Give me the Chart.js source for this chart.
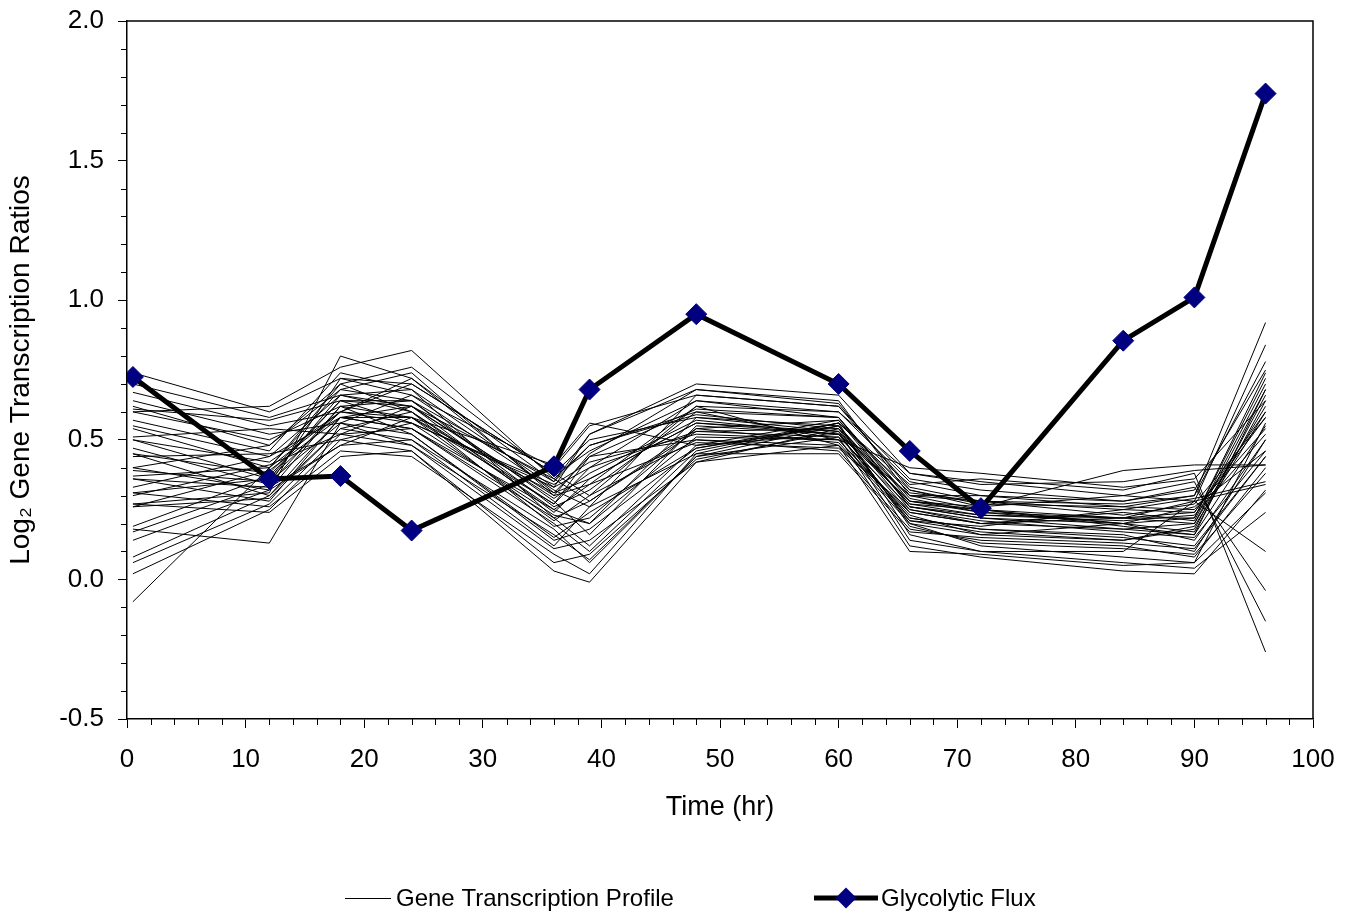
<!DOCTYPE html>
<html>
<head>
<meta charset="utf-8">
<script src="https://cdn.jsdelivr.net/npm/chart.js@4.4.1/dist/chart.umd.min.js"></script>
<style>
html,body{margin:0;padding:0;background:#fff;}
#wrap{width:1352px;height:914px;position:relative;}
</style>
</head>
<body>
<div id="wrap"><canvas id="c" width="1352" height="914"></canvas></div>
<script>
// ---------- data ----------
const timePoints = [0.5, 12, 18, 24, 36, 39, 48, 60, 66, 72, 84, 90, 96];
const glycolyticFlux = [0.725, 0.36, 0.37, 0.175, 0.405, 0.68, 0.95, 0.70, 0.46, 0.255, 0.855, 1.01, 1.74];
// one row per gene, values at each of timePoints
const geneProfiles = [
  [0.74, 0.60, 0.72, 0.70, 0.38, 0.30, 0.62, 0.60, 0.35, 0.30, 0.28, 0.32, 0.75],
  [0.70, 0.58, 0.66, 0.62, 0.30, 0.45, 0.68, 0.64, 0.30, 0.25, 0.22, 0.20, 0.68],
  [0.67, 0.55, 0.60, 0.72, 0.35, 0.52, 0.70, 0.66, 0.38, 0.35, 0.30, 0.28, 0.84],
  [0.64, 0.52, 0.56, 0.66, 0.40, 0.55, 0.66, 0.62, 0.33, 0.28, 0.25, 0.24, 0.60],
  [0.62, 0.48, 0.70, 0.60, 0.25, 0.20, 0.58, 0.55, 0.25, 0.20, 0.18, 0.16, 0.55],
  [0.61, 0.57, 0.64, 0.56, 0.33, 0.40, 0.64, 0.58, 0.28, 0.24, 0.20, 0.22, 0.72],
  [0.60, 0.62, 0.76, 0.82, 0.36, 0.48, 0.60, 0.50, 0.40, 0.38, 0.33, 0.36, 0.64],
  [0.60, 0.50, 0.62, 0.64, 0.28, 0.16, 0.55, 0.52, 0.22, 0.18, 0.16, 0.10, 0.50],
  [0.57, 0.46, 0.74, 0.68, 0.22, 0.28, 0.53, 0.54, 0.30, 0.30, 0.26, 0.30, 0.92],
  [0.55, 0.44, 0.58, 0.58, 0.41, 0.56, 0.48, 0.57, 0.26, 0.22, 0.20, 0.26, 0.46],
  [0.54, 0.40, 0.68, 0.74, 0.30, 0.34, 0.62, 0.48, 0.20, 0.16, 0.14, 0.18, 0.66],
  [0.51, 0.54, 0.52, 0.54, 0.20, 0.10, 0.46, 0.56, 0.32, 0.26, 0.30, 0.35, -0.15],
  [0.50, 0.36, 0.66, 0.60, 0.27, 0.44, 0.50, 0.46, 0.18, 0.14, 0.12, 0.08, 0.40],
  [0.50, 0.42, 0.60, 0.70, 0.38, 0.50, 0.58, 0.53, 0.24, 0.20, 0.24, 0.21, 0.70],
  [0.47, 0.34, 0.72, 0.66, 0.32, 0.26, 0.66, 0.62, 0.36, 0.32, 0.28, 0.33, -0.04],
  [0.45, 0.30, 0.54, 0.50, 0.18, 0.06, 0.44, 0.55, 0.27, 0.23, 0.22, 0.28, 0.34],
  [0.45, 0.38, 0.64, 0.62, 0.24, 0.36, 0.56, 0.52, 0.30, 0.28, 0.27, 0.30, 0.78],
  [0.44, 0.45, 0.50, 0.56, 0.34, 0.42, 0.52, 0.50, 0.22, 0.18, 0.15, 0.12, 0.44],
  [0.40, 0.32, 0.62, 0.52, 0.15, 0.24, 0.47, 0.56, 0.34, 0.36, 0.32, 0.38, -0.26],
  [0.40, 0.48, 0.68, 0.64, 0.26, 0.32, 0.60, 0.58, 0.26, 0.22, 0.18, 0.20, 0.62],
  [0.39, 0.35, 0.56, 0.48, 0.11, 0.14, 0.42, 0.54, 0.20, 0.12, 0.08, 0.06, 0.31],
  [0.37, 0.40, 0.70, 0.76, 0.37, 0.46, 0.64, 0.60, 0.38, 0.34, 0.35, 0.39, 0.41],
  [0.36, 0.33, 0.48, 0.58, 0.21, 0.30, 0.50, 0.48, 0.24, 0.20, 0.22, 0.24, 0.58],
  [0.36, 0.28, 0.58, 0.62, 0.29, 0.38, 0.57, 0.52, 0.28, 0.25, 0.20, 0.14, 0.50],
  [0.33, 0.44, 0.66, 0.68, 0.33, 0.52, 0.68, 0.63, 0.32, 0.27, 0.26, 0.25, 0.54],
  [0.31, 0.26, 0.46, 0.44, 0.09, 0.02, 0.45, 0.56, 0.16, 0.10, 0.06, 0.04, 0.24],
  [0.31, 0.36, 0.60, 0.56, 0.23, 0.20, 0.51, 0.50, 0.23, 0.16, 0.20, 0.17, 0.64],
  [0.30, 0.41, 0.52, 0.62, 0.36, 0.28, 0.54, 0.49, 0.21, 0.19, 0.25, 0.29, 0.35],
  [0.27, 0.31, 0.80, 0.72, 0.31, 0.44, 0.61, 0.58, 0.29, 0.24, 0.22, 0.22, 0.74],
  [0.27, 0.24, 0.44, 0.46, 0.06, 0.09, 0.43, 0.53, 0.14, 0.10, 0.10, 0.28, 0.10],
  [0.26, 0.39, 0.58, 0.54, 0.25, 0.34, 0.49, 0.47, 0.25, 0.21, 0.17, 0.15, 0.46],
  [0.26, 0.29, 0.54, 0.60, 0.19, 0.22, 0.54, 0.57, 0.31, 0.28, 0.23, 0.27, 0.58],
  [0.19, 0.37, 0.64, 0.64, 0.35, 0.48, 0.59, 0.54, 0.27, 0.25, 0.19, 0.16, 0.68],
  [0.18, 0.13, 0.56, 0.52, 0.14, 0.18, 0.47, 0.55, 0.19, 0.13, 0.11, 0.09, 0.38],
  [0.17, 0.34, 0.62, 0.58, 0.27, 0.40, 0.53, 0.51, 0.26, 0.23, 0.21, 0.23, 0.52],
  [0.14, 0.32, 0.48, 0.50, 0.12, 0.26, 0.45, 0.45, 0.17, 0.15, 0.13, 0.11, 0.44],
  [0.08, 0.30, 0.58, 0.54, 0.22, 0.12, 0.48, 0.52, 0.21, 0.17, 0.14, 0.19, 0.60],
  [0.06, 0.27, 0.52, 0.48, 0.16, 0.07, 0.44, 0.51, 0.12, 0.08, 0.03, 0.02, 0.32],
  [0.02, 0.25, 0.50, 0.46, 0.03, -0.01, 0.42, 0.48, 0.10, 0.09, 0.05, 0.06, 0.56],
  [-0.08, 0.40, 0.60, 0.58, 0.31, 0.36, 0.56, 0.53, 0.28, 0.26, 0.39, 0.41, 0.41]
];
const xTickValues = [0, 10, 20, 30, 40, 50, 60, 70, 80, 90, 100];
const yTickValues = [-0.5, 0.0, 0.5, 1.0, 1.5, 2.0];
const seriesNames = ['Gene Transcription Profile', 'Glycolytic Flux'];
const xTitle = 'Time (hr)';
const yTitle = 'Log\u2082 Gene Transcription Ratios';

// ---------- styling ----------
const FONT = '"Liberation Sans", Arial, Helvetica, sans-serif';
const FLUX_COLOR = '#000080';

const toPoints = vals => vals.map((v, i) => ({x: timePoints[i], y: v}));

const datasets = [{
  label: seriesNames[1],
  data: toPoints(glycolyticFlux),
  borderColor: '#000',
  borderWidth: 5,
  pointStyle: 'rectRot',
  pointRadius: 10.5,
  pointBackgroundColor: FLUX_COLOR,
  pointBorderColor: FLUX_COLOR,
  pointBorderWidth: 1,
  tension: 0
}];
geneProfiles.forEach((row, i) => {
  datasets.push({
    label: seriesNames[0] + ' ' + (i + 1),
    data: toPoints(row),
    borderColor: '#000',
    borderWidth: 1,
    pointRadius: 0,
    tension: 0
  });
});

const decorPlugin = {
  id: 'decor',
  afterDraw(chart) {
    const {ctx, chartArea: a, scales: {x, y}} = chart;
    ctx.save();
    // frame top/right
    ctx.strokeStyle = '#000';
    ctx.lineWidth = 1.5;
    ctx.beginPath();
    ctx.moveTo(a.left, a.top);
    ctx.lineTo(a.right, a.top);
    ctx.lineTo(a.right, a.bottom);
    ctx.stroke();
    // minor ticks
    ctx.lineWidth = 1;
    ctx.beginPath();
    for (let v = 2; v < 100; v += 2) {
      if (v % 10 === 0) continue;
      const px = Math.round(x.getPixelForValue(v)) + 0.5;
      ctx.moveTo(px, a.bottom);
      ctx.lineTo(px, a.bottom + 6);
    }
    for (let i = -4; i < 20; i++) {
      if (i % 5 === 0) continue;
      const py = Math.round(y.getPixelForValue(i / 10)) + 0.5;
      ctx.moveTo(a.left, py);
      ctx.lineTo(a.left - 6, py);
    }
    ctx.stroke();

    // legend
    const ly = 898;
    ctx.font = '24px ' + FONT;
    ctx.textBaseline = 'middle';
    ctx.textAlign = 'left';
    ctx.fillStyle = '#000';
    ctx.lineWidth = 1;
    ctx.beginPath();
    ctx.moveTo(345, ly + 0.5);
    ctx.lineTo(391, ly + 0.5);
    ctx.stroke();
    ctx.fillText(seriesNames[0], 396, ly + 1);

    ctx.lineWidth = 5;
    ctx.beginPath();
    ctx.moveTo(814, ly);
    ctx.lineTo(878, ly);
    ctx.stroke();
    const cx = 846, r = 10.5;
    ctx.fillStyle = FLUX_COLOR;
    ctx.beginPath();
    ctx.moveTo(cx - r, ly);
    ctx.lineTo(cx, ly - r);
    ctx.lineTo(cx + r, ly);
    ctx.lineTo(cx, ly + r);
    ctx.closePath();
    ctx.fill();
    ctx.fillStyle = '#000';
    ctx.fillText(seriesNames[1], 881, ly + 1);
    ctx.restore();
  }
};

new Chart(document.getElementById('c'), {
  type: 'line',
  data: {datasets},
  plugins: [decorPlugin],
  options: {
    responsive: false,
    animation: false,
    devicePixelRatio: 1,
    events: [],
    layout: {padding: {left: 0, top: 21, right: 39, bottom: 90}},
    plugins: {legend: {display: false}, tooltip: {enabled: false}, title: {display: false}},
    scales: {
      x: {
        type: 'linear',
        min: 0, max: 100,
        afterBuildTicks: s => { s.ticks = xTickValues.map(v => ({value: v})); },
        afterFit: s => { s.height = 105; s.paddingLeft = 0; s.paddingRight = 0; },
        grid: {drawOnChartArea: false, tickLength: 9, tickColor: '#000', tickWidth: 1},
        border: {display: true, color: '#000', width: 1.5},
        ticks: {color: '#000', padding: 16, maxRotation: 0, autoSkip: false,
          font: {family: FONT, size: 26}, callback: v => String(v)},
        title: {display: true, text: xTitle, color: '#000', padding: {top: 0, bottom: 0},
          font: {family: FONT, size: 27}}
      },
      y: {
        type: 'linear',
        min: -0.5, max: 2.0,
        afterBuildTicks: s => { s.ticks = yTickValues.map(v => ({value: v})); },
        afterFit: s => { s.width = 127; s.paddingTop = 0; s.paddingBottom = 0; },
        grid: {drawOnChartArea: false, tickLength: 9, tickColor: '#000', tickWidth: 1},
        border: {display: true, color: '#000', width: 1.5},
        ticks: {color: '#000', padding: 14, autoSkip: false,
          font: {family: FONT, size: 26}, callback: v => Number(v).toFixed(1)},
        title: {display: true, text: yTitle, color: '#000', padding: {top: 4, bottom: 0},
          font: {family: FONT, size: 28}}
      }
    }
  }
});
</script>
</body>
</html>
